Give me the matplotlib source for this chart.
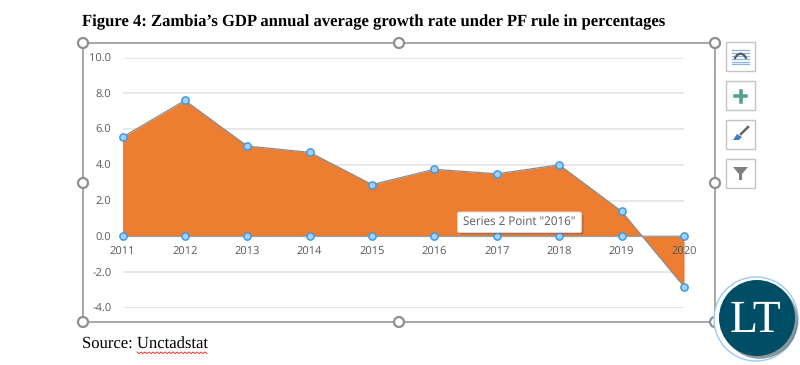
import numpy as np
import matplotlib.pyplot as plt
from matplotlib.patches import Circle, FancyBboxPatch, Polygon, Rectangle
import matplotlib.patheffects as pe

W, H = 800, 365

years = [2011, 2012, 2013, 2014, 2015, 2016, 2017, 2018, 2019, 2020]
growth = [5.55, 7.6, 5.05, 4.7, 2.9, 3.75, 3.5, 4.0, 1.4, -2.8]
baseline = [0, 0, 0, 0, 0, 0, 0, 0, 0, 0]
y_ticks = [-4, -2, 0, 2, 4, 6, 8, 10]

ORANGE = "#ed7d31"
GREY = "#595959"
FRAME = "#a0a0a0"

plt.rcParams["text.hinting"] = "no_hinting"

fig = plt.figure(figsize=(W / 100, H / 100), dpi=100, facecolor="white")

# plot area, in pixels of the screenshot
ax = fig.add_axes([122.5 / W, 1 - 308 / H, (684 - 122.5) / W, (308 - 57.5) / H])
# moving the spine resets the ticks, so it goes first
ax.spines["bottom"].set_position(("data", 0))
ax.spines["bottom"].set_color(FRAME)
ax.spines["bottom"].set_zorder(3.5)
for s in ["top", "left", "right"]:
    ax.spines[s].set_visible(False)
ax.set_xlim(years[0], years[-1])
ax.set_ylim(-4, 10)
ax.set_yticks(y_ticks)
ax.set_yticklabels([f"{v:.1f}" for v in y_ticks], family="Open Sans", fontsize=8, color=GREY)
ax.set_xticks(years)
ax.set_xticklabels(years, family="Open Sans", fontsize=8, color=GREY)
ax.tick_params(axis="both", length=0)
ax.tick_params(axis="x", pad=7)
ax.tick_params(axis="y", pad=8)
ax.grid(axis="y", color="#e2e2e2", linewidth=1.1)
ax.yaxis.set_zorder(1)
# the 2020 label sits on top of the orange area
ax.xaxis.set_zorder(5)

ax.fill_between(years, growth, baseline, color=ORANGE, linewidth=0, zorder=3)
ax.plot(years + years[::-1], growth + baseline, color="#8c8c8c", linewidth=0.9, zorder=3.4)
for series in [growth, baseline]:
    ax.plot(years, series, linestyle="none", marker="o", markersize=5.2, markerfacecolor="#a5d0f5",
            markeredgecolor="#3f9ae8", markeredgewidth=1.1, clip_on=False, zorder=6)

# everything around the chart is drawn on top in screen pixels
ov = fig.add_axes([0, 0, 1, 1], facecolor="none")
ov.set_xlim(0, W)
ov.set_ylim(H, 0)
ov.axis("off")

ov.add_patch(Rectangle((83, 43), 632, 279, fill=False, edgecolor=FRAME, linewidth=1.3, zorder=2))
for hx in [83, 399, 715]:
    for hy in [43, 183, 322]:
        if hx == 399 and hy == 183:
            continue
        ov.add_patch(Circle((hx, hy), 5, facecolor="white", edgecolor="#8f8f8f", linewidth=1.6, zorder=3))

ov.text(82, 22, "Figure 4: Zambia\u2019s GDP annual average growth rate under PF rule in percentages",
        family="Liberation Serif", fontweight="bold", fontsize=12, color="black", va="center")
ov.text(82, 345, "Source: Unctadstat", family="Liberation Serif", fontsize=12, color="black", va="center")

# spell-check squiggle under the word Unctadstat
sq_x = np.arange(137, 209, 2)
sq_y = 352 + np.arange(len(sq_x)) % 2 * 1.6
ov.plot(sq_x, sq_y, color="#e0353a", linewidth=0.7, zorder=4)

# tooltip
tip = FancyBboxPatch((459, 213.5), 121, 17.5, boxstyle="round,pad=1.5,rounding_size=2", facecolor="white",
                     edgecolor="#dddddd", linewidth=0.6, zorder=5,
                     path_effects=[pe.SimplePatchShadow(offset=(1.5, -1.5), alpha=0.35, shadow_rgbFace="#555555"),
                                   pe.Normal()])
ov.add_patch(tip)
ov.text(519.5, 221.5, 'Series 2 Point "2016"', family="Open Sans", fontsize=8.4, color=GREY,
        ha="center", va="center", zorder=6)

# side buttons
for by in [42, 81, 120, 159]:
    ov.add_patch(Rectangle((726, by), 29, 29, facecolor="white", edgecolor="#c4c4c4", linewidth=1, zorder=2))
for ly in [49.5, 52.5, 55.5, 58.5, 61.5, 64]:
    ov.plot([732, 749], [ly, ly], color="#8fb3dc", linewidth=0.9, zorder=3)
ov.plot([735, 737, 740.5, 744, 746], [58, 55, 53.5, 55, 58], color="#555555", linewidth=1.5, zorder=4)
ov.plot([735, 746], [96, 96], color="#5aa287", linewidth=2.6, zorder=3)
ov.plot([740.5, 740.5], [90.5, 101.5], color="#5aa287", linewidth=2.6, zorder=3)
ov.plot([741, 748], [134, 127], color="#666666", linewidth=1.8, zorder=3)
ov.add_patch(Polygon([(733, 140), (737, 134), (742, 137), (739, 140)], facecolor="#3f7fc1", edgecolor="none", zorder=4))
ov.add_patch(Polygon([(733, 167), (748, 167), (742, 174), (742, 180), (739, 180), (739, 174)],
                     facecolor="#808080", edgecolor="none", zorder=3))

# logo
ov.add_patch(Circle((756, 319), 42, facecolor="white", edgecolor="#9ccaf2", linewidth=1, zorder=7))
ov.add_patch(Circle((757, 318), 38, facecolor="#004d66", edgecolor="none", zorder=8,
                    path_effects=[pe.SimplePatchShadow(offset=(2, -2), alpha=0.45), pe.Normal()]))
ov.text(756, 321, "LT", family="Liberation Serif", fontsize=33, color="white", ha="center", va="center", zorder=9)

fig.savefig("out.png", dpi=100)
